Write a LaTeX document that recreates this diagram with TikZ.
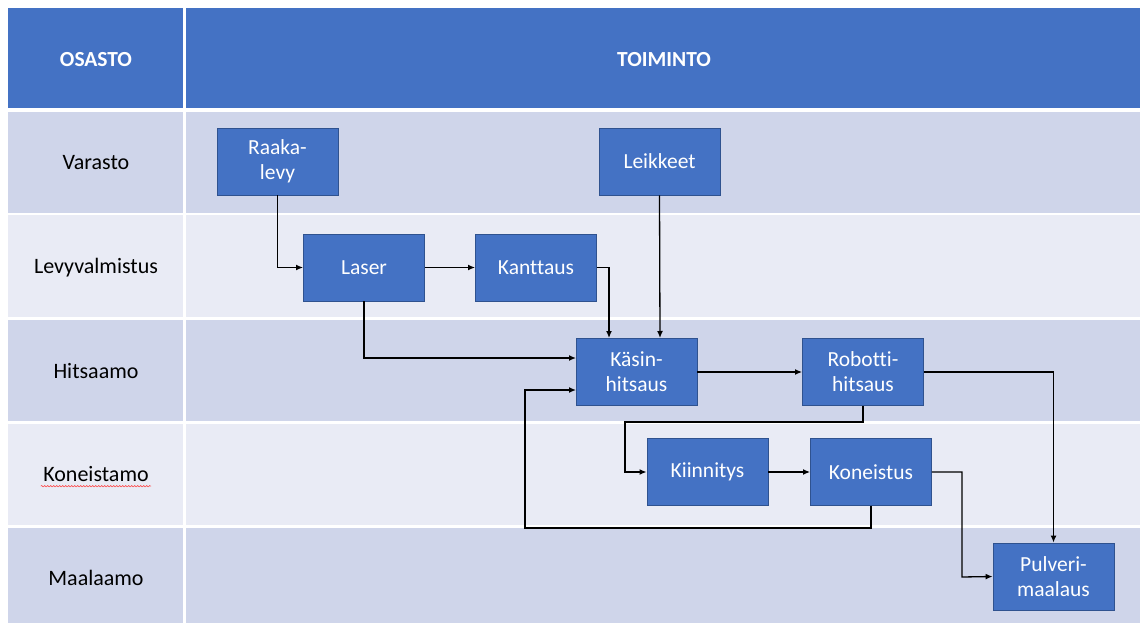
\documentclass[tikz,border=0pt]{standalone}
\usepackage{fontspec}
\setmainfont{Carlito}[Ligatures={NoCommon}]
\usetikzlibrary{arrows.meta,decorations.pathmorphing}
\definecolor{hdr}{HTML}{4472C4}
\definecolor{rowdark}{HTML}{CFD5EA}
\definecolor{rowlight}{HTML}{E9EBF5}
\definecolor{boxline}{HTML}{2F528F}
\tikzset{
  procbox/.style={draw=boxline, line width=0.9pt, fill=hdr, text=white, minimum width=121pt, minimum height=67pt, inner sep=0pt, align=center, font=\fontsize{21.5}{25}\selectfont},
  rowlabel/.style={font=\fontsize{22}{26}\selectfont, text=black},
  hdrlabel/.style={font=\bfseries\fontsize{21.5}{25}\selectfont, text=white},
  flow/.style={draw=black, line width=1.3pt, -{Latex[length=7pt,width=6pt]}}
}
\begin{document}
\begin{tikzpicture}[x=1pt,y=-1pt]
\useasboundingbox (0,0) rectangle (1140,623);
\fill[white] (0,0) rectangle (1140,623);
% header
\fill[hdr] (8,8) rectangle (183,108);
\fill[hdr] (186,8) rectangle (1140,108);
% rows
\fill[rowdark]  (8,112) rectangle (183,213);
\fill[rowdark]  (186,112) rectangle (1140,213);
\fill[rowlight] (8,215) rectangle (183,317);
\fill[rowlight] (186,215) rectangle (1140,317);
\fill[rowdark]  (8,320) rectangle (183,421);
\fill[rowdark]  (186,320) rectangle (1140,421);
\fill[rowlight] (8,424) rectangle (183,525);
\fill[rowlight] (186,424) rectangle (1140,525);
\fill[rowdark]  (8,528) rectangle (183,623);
\fill[rowdark]  (186,528) rectangle (1140,623);
% header texts
\node[hdrlabel] (hOsasto) at (96,60) {OSASTO};
\node[hdrlabel] (hToiminto) at (664,60) {TOIMINTO};
% row labels
\node[rowlabel] (rVarasto) at (96,163) {Varasto};
\node[rowlabel] (rLevy) at (96,268) {Levyvalmistus};
\node[rowlabel] (rHitsaamo) at (96,371) {Hitsaamo};
\node[rowlabel] (rKoneistamo) at (96,474) {Koneistamo};
\node[rowlabel] (rMaalaamo) at (96,578) {Maalaamo};
\draw[red!80, line width=0.5pt, decorate, decoration={snake, amplitude=0.7pt, segment length=3pt}] ([xshift=1pt,yshift=-1pt]rKoneistamo.south west) -- ([xshift=-1pt,yshift=-1pt]rKoneistamo.south east);
% process boxes
\node[procbox] (raaka) at (277.5,161.5) {Raaka-\\levy};
\node[procbox] (leik) at (659.5,161.5) {Leikkeet};
\node[procbox] (laser) at (364,267.5) {Laser};
\node[procbox] (kant) at (536,267.5) {Kanttaus};
\node[procbox] (kasin) at (636.5,372) {Käsin-\\hitsaus};
\node[procbox] (robo) at (863,372) {Robotti-\\hitsaus};
\node[procbox] (kiin) at (707.5,472) {Kiinnitys};
\node[procbox] (kone) at (871,472) {Koneistus};
\node[procbox] (pulv) at (1053.5,576.5) {Pulveri-\\maalaus};
% helper coordinates
\coordinate (kasinTopA) at (609,338);
\coordinate (kasinLeftA) at (576,358);
\coordinate (kasinLeftB) at (576,390);
\coordinate (kasinTopB) at (660,338);
% connectors
\draw[flow] (raaka.south) |- (laser.west);
\draw[flow] (laser.east) -- (kant.west);
\draw[flow] (kant.east) -| (kasinTopA);
\draw[flow] (leik.south) -- (kasinTopB);
\draw[flow] (laser.south) |- (kasinLeftA);
\draw[flow] (kone.south) -- ++(0,22) -| (525,390) -- (kasinLeftB);
\draw[flow] (kasin.east) -- (robo.west);
\draw[flow] (robo.south) -- ++(0,16) -| (625,472) -- (kiin.west);
\draw[flow] (kiin.east) -- (kone.west);
\draw[flow] (kone.east) -| (962,577) -- (pulv.west);
\draw[flow] (robo.east) -| (pulv.north);
\end{tikzpicture}
\end{document}
